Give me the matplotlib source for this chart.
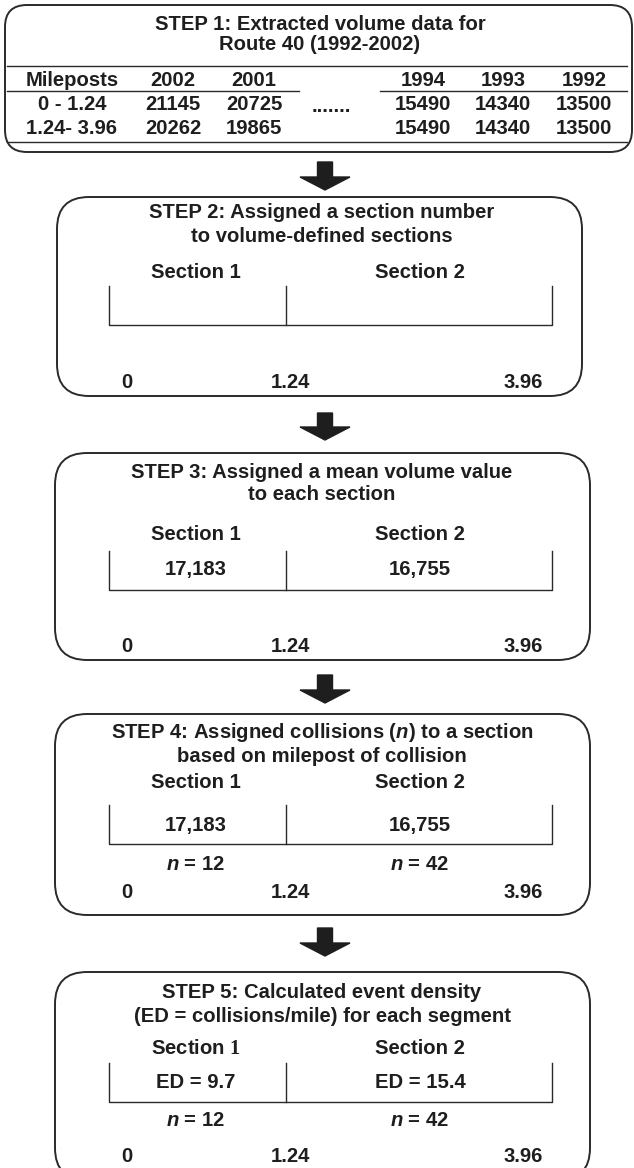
import matplotlib

matplotlib.use("Agg")

import matplotlib.pyplot as plt
from matplotlib.patches import FancyBboxPatch

plt.rcParams["font.family"] = ["Liberation Sans", "DejaVu Sans"]
plt.rcParams["font.weight"] = "bold"
plt.rcParams["mathtext.fontset"] = "custom"
plt.rcParams["mathtext.it"] = "Liberation Sans:bold:italic"
plt.rcParams["mathtext.rm"] = "Liberation Sans:bold"
plt.rcParams["mathtext.tt"] = "Liberation Serif"

# step 1 table
route_title = ["STEP 1: Extracted volume data for", "Route 40 (1992-2002)"]
mileposts = ["0 - 1.24", "1.24- 3.96"]
years_left = ["2002", "2001"]
years_right = ["1994", "1993", "1992"]
volumes_left = [[21145, 20725], [20262, 19865]]
volumes_right = [[15490, 14340, 13500], [15490, 14340, 13500]]

# steps 2-5
step_titles = [
    ["STEP 2: Assigned a section number", "to volume-defined sections"],
    ["STEP 3: Assigned a mean volume value", "to each section"],
    ["STEP 4: Assigned collisions ($n$) to a section", "based on milepost of collision"],
    ["STEP 5: Calculated event density", "(ED = collisions/mile) for each segment"],
]
section_names = ["Section 1", "Section 2"]
milepost_ticks = ["0", "1.24", "3.96"]
mean_volumes = [17183, 16755]
collisions = [12, 42]
event_density = [9.7, 15.4]

INK = "#1e1e1e"
LINE = "#2a2a2a"
FS = 14.6


def rbox(ax, x0, y0, x1, y1, r):
    ax.add_patch(FancyBboxPatch((x0, y0), x1 - x0, y1 - y0,
                                boxstyle=f"round,pad=0,rounding_size={r}",
                                fc="white", ec=LINE, lw=1.4))


def txt(ax, x, y, s, **kw):
    ax.text(x, y, s, ha="center", va="center", fontsize=FS, color=INK, **kw)


def arrow(ax, y0, y1, x=325):
    ax.arrow(x, y0, 0, y1 - y0, width=15, head_width=50, head_length=13,
             length_includes_head=True, fc=INK, ec=INK)


fig = plt.figure(figsize=(6.34, 11.68), dpi=100)
ax = fig.add_axes([0, 0, 1, 1])
ax.set_xlim(0, 634)
ax.set_ylim(1168, 0)
ax.axis("off")

# ---- step 1
rbox(ax, 5, 5, 632, 152, 22)
txt(ax, 320, 24, route_title[0])
txt(ax, 320, 45, route_title[1])
ax.plot([7, 627], [66, 66], color=LINE, lw=1.0)
ax.plot([7, 299], [91, 91], color=LINE, lw=1.0)
ax.plot([380, 627], [91, 91], color=LINE, lw=1.0)
ax.plot([7, 627], [142, 142], color=LINE, lw=1.0)

col_left = [173, 254]
col_right = [423, 503, 584]
row_y = [105, 129]
txt(ax, 72, 80, "Mileposts")
for cx, yr in zip(col_left, years_left):
    txt(ax, cx, 80, yr)
for cx, yr in zip(col_right, years_right):
    txt(ax, cx, 80, yr)
for i, ry in enumerate(row_y):
    txt(ax, 72, ry, mileposts[i])
    for cx, v in zip(col_left, volumes_left[i]):
        txt(ax, cx, ry, str(v))
    for cx, v in zip(col_right, volumes_right[i]):
        txt(ax, cx, ry, str(v))
txt(ax, 331, 107, ".......")

arrow(ax, 162, 190)

# ---- steps 2-5
boxes = [
    (57, 197, 582, 396),
    (55, 453, 590, 660),
    (55, 714, 590, 915),
    (55, 972, 590, 1180),
]
# y of: title1, title2, section labels, bracket top, bracket bottom, values, n, ticks
rows = [
    (213, 237, 272, 286, 325, None, None, 382),
    (472, 495, 535, 551, 590, 570, None, 646),
    (733, 756, 782, 805, 844, 826, 865, 893),
    (992, 1017, 1048, 1063, 1102, 1083, 1120, 1157),
]
bracket_x = [109, 286, 552]
section_x = [196, 420]
tick_x = [127, 290, 523]

for k, (box, ry) in enumerate(zip(boxes, rows)):
    x0, y0, x1, y1 = box
    t1, t2, ys, bt, bb, yv, yn, yt = ry
    rbox(ax, x0, y0, x1, y1, 32)
    txt(ax, 322, t1, step_titles[k][0])
    txt(ax, 322, t2, step_titles[k][1])
    names = section_names
    if k == 3:
        names = ["Section $\\mathtt{1}$", "Section 2"]
    for sx, nm in zip(section_x, names):
        txt(ax, sx, ys, nm)
    ax.plot([bracket_x[0], bracket_x[0], bracket_x[2], bracket_x[2]],
            [bt, bb, bb, bt], color=LINE, lw=1.0)
    ax.plot([bracket_x[1], bracket_x[1]], [bt, bb], color=LINE, lw=1.0)
    if yv is not None:
        for j, sx in enumerate(section_x):
            if k == 3:
                txt(ax, sx, yv, f"ED = {event_density[j]}")
            else:
                txt(ax, sx, yv, f"{mean_volumes[j]:,}")
    if yn is not None:
        for j, sx in enumerate(section_x):
            txt(ax, sx, yn, f"$n$ = {collisions[j]}")
    for tx, lab in zip(tick_x, milepost_ticks):
        txt(ax, tx, yt, lab)

arrow(ax, 413, 440)
arrow(ax, 675, 703)
arrow(ax, 928, 956)

fig.savefig("out.png", dpi=100)
